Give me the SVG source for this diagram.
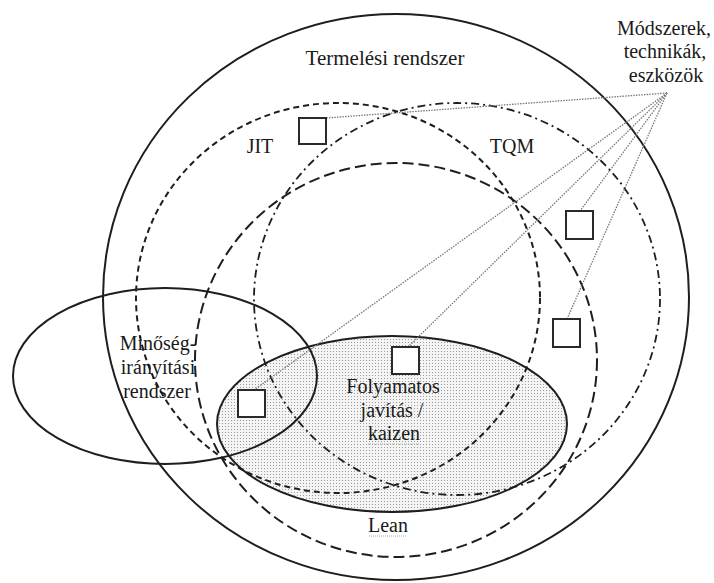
<svg xmlns="http://www.w3.org/2000/svg" width="714" height="583" viewBox="0 0 714 583">
<style>
.t{font-family:"Liberation Serif","Times New Roman",serif;font-size:20px;fill:#1a1a1a;text-anchor:middle}
.solid{fill:none;stroke:#1e1e1e;stroke-width:2}
.jit{fill:none;stroke:#1e1e1e;stroke-width:2;stroke-dasharray:6 4}
.tqm{fill:none;stroke:#1e1e1e;stroke-width:1.8;stroke-dasharray:8 4 2 4}
.lean{fill:none;stroke:#1e1e1e;stroke-width:2;stroke-dasharray:11 5}
.sq{fill:#fff;stroke:#2a2a2a;stroke-width:2}
.dot{stroke:#777;stroke-width:1.3;stroke-dasharray:1.5 1.2;fill:none}
.sp{stroke:#aaa;stroke-width:1;stroke-dasharray:1 1}
</style>
<defs>
<pattern id="dots" width="3" height="3" patternUnits="userSpaceOnUse">
<rect width="3" height="3" fill="#f4f4f4"/>
<rect x="0" y="0" width="1" height="1" fill="#9a9a9a"/>
</pattern>
</defs>
<rect width="714" height="583" fill="#fff"/>
<g id="kaizen-fill"><ellipse cx="392" cy="424" rx="175" ry="88" fill="url(#dots)"/></g>
<g id="termelesi">
<ellipse class="solid" cx="396" cy="297" rx="293" ry="283"/>
<text class="t" x="385" y="65" style="font-size:21px">Termelési rendszer</text>
</g>
<g id="jit">
<ellipse class="jit" cx="338" cy="298" rx="202" ry="195"/>
<text class="t" x="260" y="153">JIT</text>
</g>
<g id="tqm">
<ellipse class="tqm" cx="457" cy="299" rx="203" ry="196"/>
<text class="t" x="512" y="153">TQM</text>
</g>
<g id="lean">
<ellipse class="lean" cx="396" cy="360" rx="201" ry="197"/>
<text class="t" x="388" y="532">Lean</text>
<line class="sp" x1="369" y1="536" x2="407" y2="536"/>
</g>
<g id="kaizen">
<ellipse class="solid" cx="392" cy="424" rx="175" ry="88"/>
<text class="t" x="393" y="393">Folyamatos</text>
<text class="t" x="392" y="417">javítás /</text>
<text class="t" x="394" y="440">kaizen</text>
<line class="sp" x1="368" y1="444" x2="420" y2="444"/>
</g>
<g id="minoseg">
<ellipse class="solid" cx="165" cy="376" rx="152" ry="88"/>
<text class="t" x="158" y="350">Minőség-</text>
<text class="t" x="158" y="374">irányítási</text>
<text class="t" x="157" y="398">rendszer</text>
</g>
<g id="modszerek">
<text class="t" x="664" y="35">Módszerek,</text>
<text class="t" x="665" y="58">technikák,</text>
<text class="t" x="666" y="82">eszközök</text>
</g>
<g id="connectors">
<line class="dot" x1="667" y1="93" x2="326" y2="118"/>
<line class="dot" x1="667" y1="93" x2="580" y2="211"/>
<line class="dot" x1="667" y1="93" x2="567" y2="319"/>
<line class="dot" x1="667" y1="93" x2="408" y2="347"/>
<line class="dot" x1="667" y1="93" x2="254" y2="390"/>
</g>
<g id="m1"><rect class="sq" x="299" y="118" width="27" height="26"/></g>
<g id="m2"><rect class="sq" x="566" y="211" width="27" height="28"/></g>
<g id="m3"><rect class="sq" x="553" y="319" width="27" height="28"/></g>
<g id="m4"><rect class="sq" x="392" y="347" width="27" height="27"/></g>
<g id="m5"><rect class="sq" x="238" y="390" width="27" height="27"/></g>
</svg>
